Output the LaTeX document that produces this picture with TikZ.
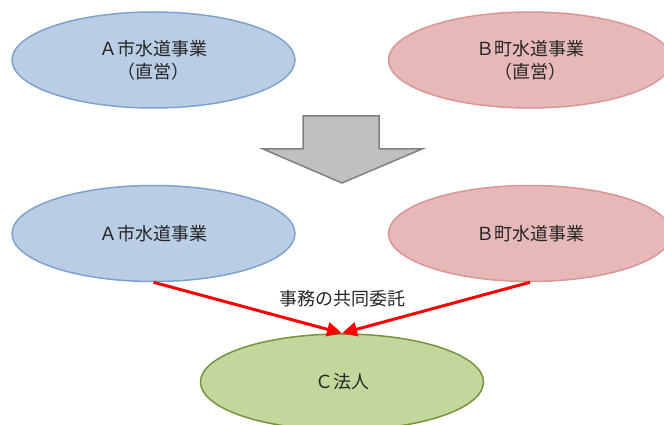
\documentclass[tikz,border=0pt]{standalone}
\usepackage{fontspec}
\newfontfamily\cjk{Noto Sans CJK JP}
\usetikzlibrary{shapes.geometric,arrows.meta}

\definecolor{cityfill}{HTML}{B9CDE5}
\definecolor{cityline}{HTML}{7EA1CF}
\definecolor{townfill}{HTML}{E6B9B8}
\definecolor{townline}{HTML}{D99694}
\definecolor{corpfill}{HTML}{C3D69B}
\definecolor{corpline}{HTML}{77933C}
\definecolor{bigarrowfill}{HTML}{C0C0C0}
\definecolor{bigarrowline}{HTML}{808080}

\newcommand\suidotextstyle{\cjk\fontsize{18}{23}\selectfont}

\tikzset{
  suidobox/.style={ellipse, minimum width=283pt, minimum height=96pt,
    inner sep=0pt, line width=1.5pt, align=center, text=black!85,
    font=\suidotextstyle},
  citybox/.style={suidobox, fill=cityfill, draw=cityline},
  townbox/.style={suidobox, fill=townfill, draw=townline},
  corpbox/.style={suidobox, fill=corpfill, draw=corpline},
  itaku/.style={draw=red, line width=3pt,
    -{Triangle[width=14pt,length=15pt]}},
}

\begin{document}
\begin{tikzpicture}[x=1pt, y=-1pt]
  \useasboundingbox (0,0) rectangle (664,425);
  % before
  \node[citybox] (aBefore) at (153.5,60) {Ａ市水道事業\\（直営）};
  \node[townbox] (bBefore) at (530,60) {Ｂ町水道事業\\（直営）};
  % big arrow
  \draw[fill=bigarrowfill, draw=bigarrowline, line width=1.5pt]
    (303,116) -- (379,116) -- (379,149) -- (422,149) -- (342,183)
    -- (263,149) -- (303,149) -- cycle;
  % after
  \node[citybox] (aAfter) at (153.5,233.5) {Ａ市水道事業};
  \node[townbox] (bAfter) at (530,233.5) {Ｂ町水道事業};
  \node[corpbox] (cHojin) at (342,382) {Ｃ法人};
  \draw[itaku] (aAfter.south) -- (cHojin.north);
  \draw[itaku] (bAfter.south) -- (cHojin.north);
  \node[font=\suidotextstyle, text=black!85] (itakuLabel) at (342,299) {事務の共同委託};
\end{tikzpicture}
\end{document}
